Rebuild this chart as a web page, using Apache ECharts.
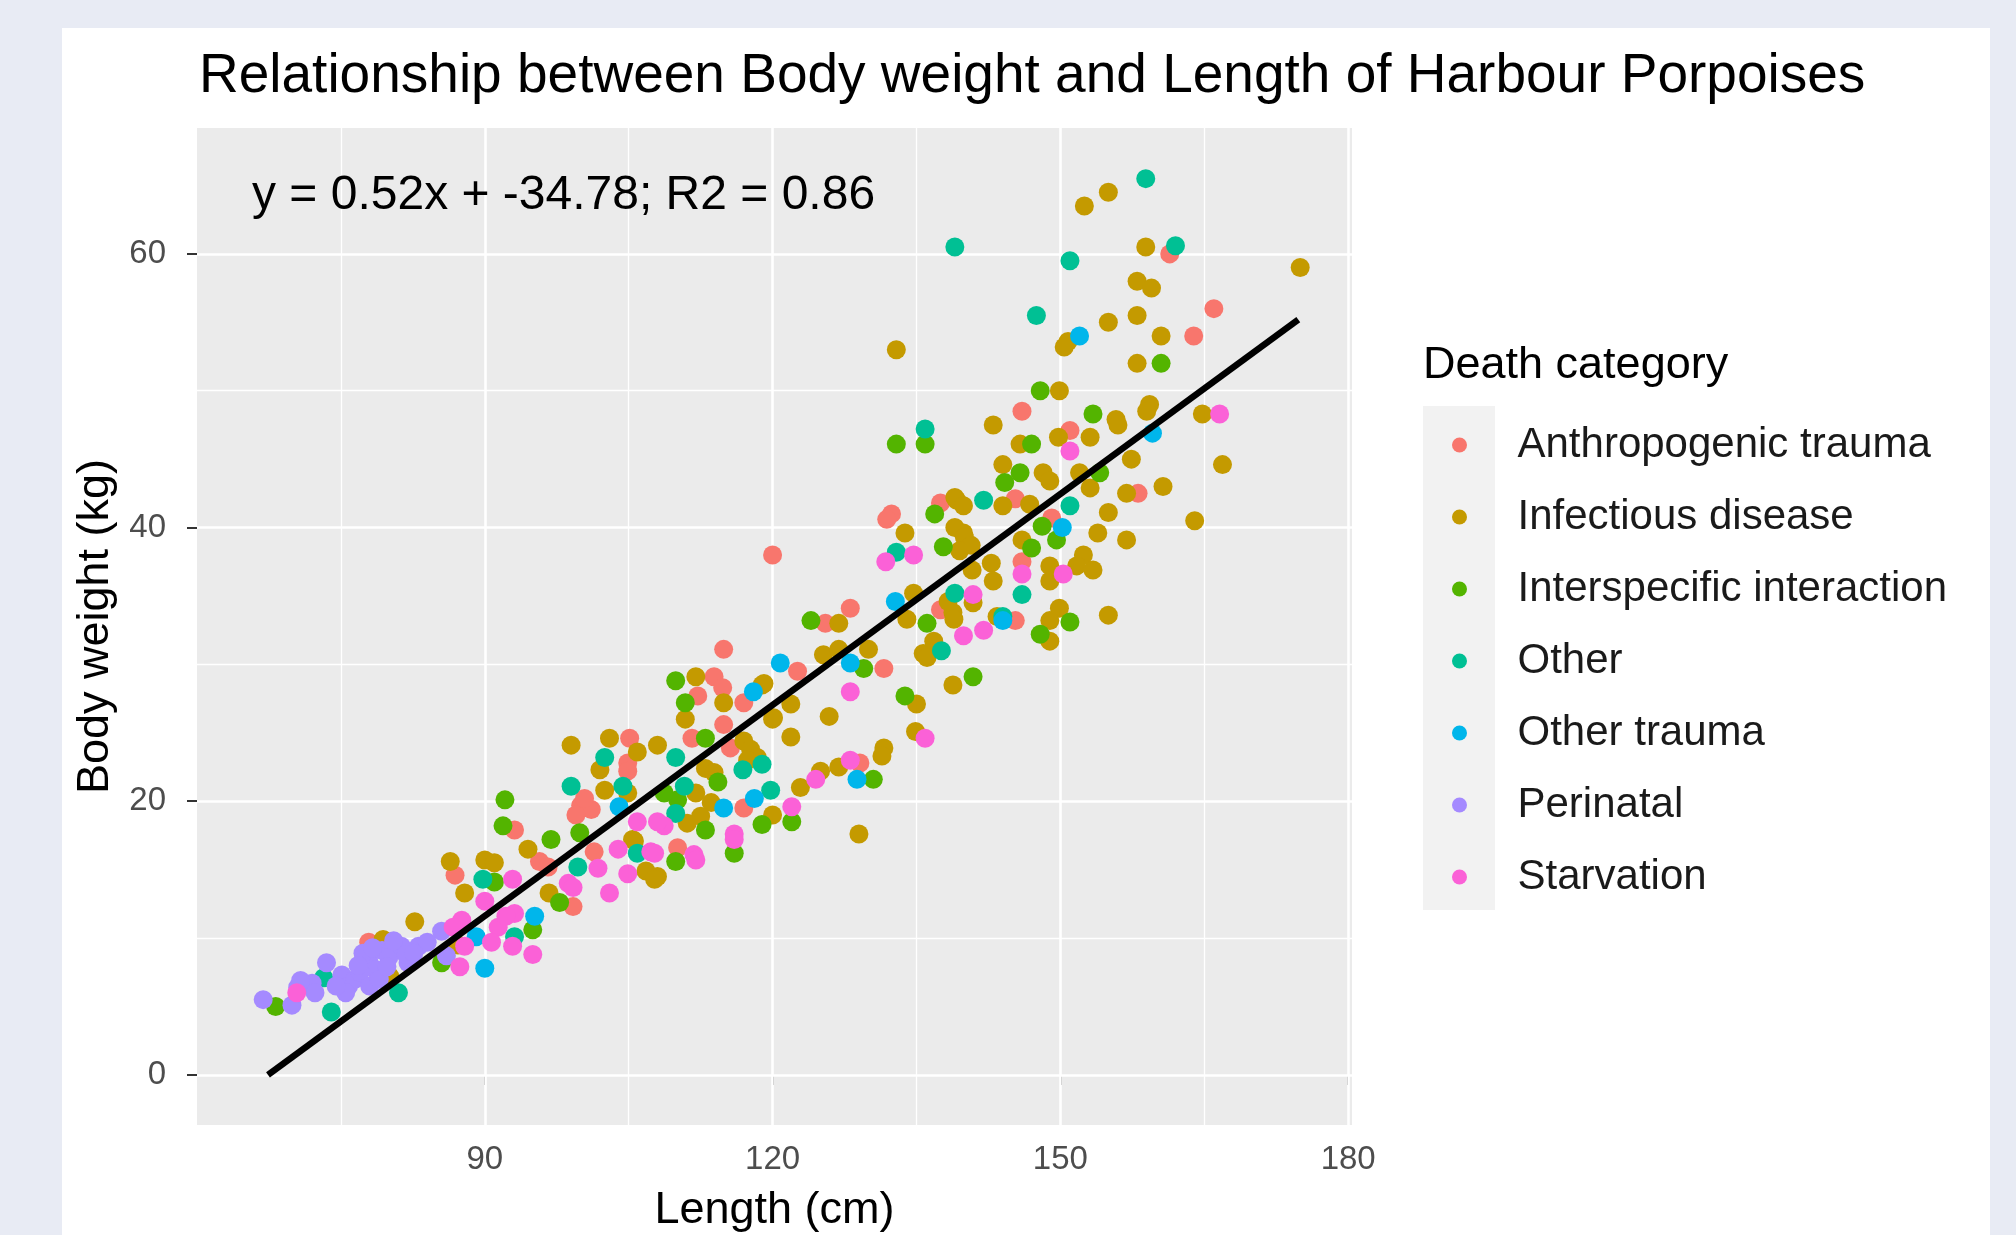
<!DOCTYPE html>
<html>
<head>
<meta charset="utf-8">
<title>Harbour Porpoises</title>
<script src="https://cdn.jsdelivr.net/npm/echarts@6/dist/echarts.min.js"></script>
<style>
  html, body { margin: 0; padding: 0; background: #e8ebf4; }
  #card { position: absolute; left: 62px; top: 28px; width: 1928px; height: 1207px; background: #fff; }
  #chart { position: absolute; left: 0; top: 0; width: 2016px; height: 1235px; }
</style>
</head>
<body>
<div id="card"></div>
<div id="chart"></div>
<script>
const FONT = '"Liberation Sans", Arial, Helvetica, sans-serif'

const categories = ['Anthropogenic trauma', 'Infectious disease', 'Interspecific interaction',
  'Other', 'Other trauma', 'Perinatal', 'Starvation']
const colors = ['#F8766D', '#C49A00', '#53B400', '#00C094', '#00B6EB', '#A58AFF', '#FB61D7']

// [length (cm), body weight (kg)]
const anthropogenic = [
  [161.4, 60.0], [166.0, 56.0], [163.9, 54.0], [146.0, 48.5], [151.0, 47.1], [158.1, 42.5],
  [145.3, 42.1], [149.1, 40.7], [146.0, 37.5], [145.3, 33.2], [132.4, 41.0], [131.9, 40.6],
  [137.5, 41.8], [137.5, 34.0], [122.6, 29.5], [125.5, 33.0], [128.1, 34.1], [131.6, 29.7],
  [120.0, 38.0], [114.9, 31.1], [113.9, 29.1], [114.8, 28.3], [117.0, 27.2], [112.2, 27.7],
  [105.1, 24.6], [111.6, 24.6], [114.9, 25.6], [115.6, 23.9], [104.9, 22.8], [104.9, 22.2],
  [129.1, 22.8], [100.0, 19.7], [101.1, 19.4], [99.5, 19.0], [100.4, 20.2], [117.0, 19.5],
  [101.4, 16.3], [110.1, 16.6], [93.1, 17.9], [86.9, 14.6], [95.7, 15.6], [96.6, 15.2],
  [99.2, 12.3], [77.9, 9.7]
]
const infectious = [
  [155.0, 64.5], [152.5, 63.5], [158.9, 60.5], [175.0, 59.0], [158.0, 58.0], [159.5, 57.5],
  [155.0, 55.0], [158.0, 55.5], [150.4, 53.2], [150.8, 53.6], [160.5, 54.0], [158.0, 52.0],
  [149.9, 50.0], [159.3, 49.0], [159.0, 48.5], [155.8, 47.9], [164.8, 48.3], [143.0, 47.5],
  [156.0, 47.5], [149.8, 46.6], [153.1, 46.6], [145.8, 46.1], [157.4, 45.0], [166.9, 44.6],
  [144.0, 44.6], [148.2, 44.0], [148.9, 43.4], [152.0, 44.0], [153.1, 42.9], [160.7, 43.0],
  [156.9, 42.5], [139.2, 42.0], [144.0, 41.6], [146.8, 41.7], [155.0, 41.1], [164.0, 40.5],
  [139.9, 39.6], [153.9, 39.6], [146.0, 39.1], [156.9, 39.1], [142.8, 37.4], [152.4, 38.0],
  [151.7, 37.2], [153.4, 36.9], [148.9, 37.2], [148.9, 36.1], [143.0, 36.1], [140.9, 34.5],
  [155.0, 33.6], [149.9, 34.1], [143.4, 33.5], [148.9, 33.2], [148.9, 31.7], [138.8, 33.8],
  [132.9, 53.0], [133.8, 39.6], [139.0, 42.2], [139.9, 41.6], [139.0, 40.0], [140.0, 39.3],
  [140.7, 38.7], [139.5, 38.3], [140.8, 36.9], [134.7, 35.2], [138.3, 34.6], [138.9, 33.3],
  [134.0, 33.3], [135.7, 30.8], [136.8, 31.7], [136.1, 30.5], [118.9, 28.5], [126.9, 33.0],
  [125.3, 30.7], [126.9, 31.1], [130.0, 31.1], [125.9, 26.2], [135.0, 27.1], [121.9, 27.1],
  [120.1, 26.1], [121.9, 24.7], [134.9, 25.1], [138.8, 28.5], [131.6, 23.9], [112.0, 29.1],
  [114.9, 27.2], [119.1, 28.6], [110.9, 26.0], [120.0, 26.0], [99.0, 24.1], [103.0, 24.6],
  [105.9, 23.6], [108.0, 24.1], [117.0, 24.4], [117.7, 23.8], [118.4, 23.2], [102.0, 22.3],
  [113.0, 22.4], [113.9, 22.1], [117.4, 23.0], [122.9, 21.0], [125.0, 22.2], [126.9, 22.5],
  [131.4, 23.3], [129.0, 17.6], [102.5, 20.8], [104.9, 20.6], [112.0, 20.6], [113.6, 19.9],
  [120.0, 19.0], [112.5, 18.9], [111.1, 18.4], [105.4, 17.2], [94.5, 16.5], [86.4, 15.6],
  [90.0, 15.7], [91.0, 15.5], [87.9, 13.3], [96.7, 13.3], [106.8, 14.9], [108.0, 14.5],
  [107.7, 14.3], [105.6, 17.1], [82.7, 11.2], [79.4, 9.9], [80.1, 7.2], [87.2, 9.5]
]
const interspecific = [
  [160.5, 52.0], [153.4, 48.3], [147.9, 50.0], [147.0, 46.1], [145.8, 44.0], [144.2, 43.3],
  [154.1, 44.0], [148.1, 40.1], [149.6, 39.1], [147.0, 38.5], [151.0, 33.1], [147.9, 32.2],
  [135.9, 46.1], [132.9, 46.1], [136.9, 41.0], [137.8, 38.6], [136.1, 33.0], [124.0, 33.2],
  [129.5, 29.7], [133.8, 27.7], [140.9, 29.1], [109.9, 28.8], [110.9, 27.2], [113.0, 24.6],
  [110.1, 20.1], [108.7, 20.6], [114.3, 21.4], [130.5, 21.6], [118.9, 18.3], [122.0, 18.5],
  [113.0, 17.9], [116.0, 16.2], [99.9, 17.7], [96.9, 17.2], [92.1, 20.1], [91.9, 18.2],
  [91.0, 14.1], [97.8, 12.6], [109.9, 15.6], [95.0, 10.6], [85.5, 8.2], [68.2, 5.0]
]
const other = [
  [158.9, 65.5], [162.0, 60.6], [151.0, 59.5], [139.0, 60.5], [147.5, 55.5], [142.0, 42.0],
  [151.0, 41.6], [139.0, 35.2], [146.0, 35.1], [135.9, 47.2], [132.9, 38.2], [137.6, 31.0],
  [144.0, 33.5], [118.9, 22.7], [109.9, 23.2], [102.5, 23.2], [99.0, 21.1], [119.8, 20.8],
  [110.8, 21.1], [104.4, 21.1], [109.9, 19.1], [116.9, 22.3], [105.9, 16.2], [99.7, 15.2],
  [89.8, 14.3], [93.1, 10.1], [73.2, 7.1], [74.0, 4.6], [81.0, 6.0]
]
const otherTrauma = [
  [152.0, 54.0], [159.6, 46.9], [150.2, 40.0], [144.0, 33.2], [132.8, 34.6], [120.8, 30.1],
  [118.0, 28.0], [128.1, 30.1], [128.8, 21.6], [104.0, 19.6], [114.9, 19.5], [118.1, 20.2],
  [95.2, 11.6], [89.1, 10.1], [90.0, 7.8]
]
const perinatal = [
  [66.9, 5.5], [69.9, 5.1], [72.0, 6.7], [72.3, 6.0], [73.5, 8.2], [75.1, 7.3], [75.8, 6.5],
  [76.5, 7.0], [75.5, 6.0], [77.9, 8.4], [79.3, 9.1], [78.6, 7.7], [80.0, 8.6], [81.3, 9.4],
  [82.0, 8.2], [83.1, 9.4], [85.5, 10.5], [86.0, 8.7], [77.0, 7.5], [78.0, 6.5], [80.5, 9.8],
  [74.5, 6.5], [70.5, 6.4], [77.3, 8.9], [79.0, 7.0], [81.8, 8.8], [84.0, 9.7],
  [70.8, 6.9], [78.3, 9.3], [79.8, 7.9], [82.6, 8.9], [76.8, 8.0]
]
const starvation = [
  [166.6, 48.3], [151.0, 45.6], [146.0, 36.6], [150.3, 36.6], [140.9, 35.1], [142.0, 32.5],
  [139.9, 32.1], [131.8, 37.5], [134.7, 38.0], [128.1, 28.0], [135.9, 24.6], [128.1, 23.0],
  [124.5, 21.6], [122.0, 19.6], [105.9, 18.5], [108.7, 18.2], [108.0, 18.5], [116.0, 17.6],
  [116.0, 17.2], [103.9, 16.5], [107.3, 16.3], [111.8, 16.1], [101.8, 15.1], [98.7, 14.0],
  [99.2, 13.7], [103.0, 13.3], [104.9, 14.7], [107.7, 16.2], [112.0, 15.7], [92.9, 14.3],
  [90.0, 12.7], [93.1, 11.8], [91.4, 10.8], [90.7, 9.7], [95.0, 8.8], [87.6, 11.3],
  [86.7, 10.8], [87.4, 7.9], [87.9, 9.4], [92.9, 9.4], [92.2, 11.6], [70.4, 6.0]
]
const groups = [anthropogenic, infectious, interspecific, other, otherTrauma, perinatal, starvation]

// fitted line at both ends
const fitLine = [[67.4, 0], [174.8, 55.2]]

const xMajor = [90, 120, 150, 180]
const xMinor = [75, 105, 135, 165]
const yMajor = [0, 20, 40, 60]
const yMinor = [10, 30, 50]

const chart = echarts.init(document.getElementById('chart'))

const gridLines = []
yMajor.forEach(v => gridLines.push({ yAxis: v, lineStyle: { color: '#fff', width: 2.6, type: 'solid' } }))
yMinor.forEach(v => gridLines.push({ yAxis: v, lineStyle: { color: '#fff', width: 1.3, type: 'solid' } }))
xMajor.forEach(v => gridLines.push({ xAxis: v, lineStyle: { color: '#fff', width: 2.6, type: 'solid' } }))
xMinor.forEach(v => gridLines.push({ xAxis: v, lineStyle: { color: '#fff', width: 1.3, type: 'solid' } }))

const series = groups.map((g, i) => ({
  name: categories[i],
  type: 'scatter',
  data: g,
  symbol: 'circle',
  symbolSize: 19,
  itemStyle: { color: colors[i], opacity: 1 },
  emphasis: { disabled: true },
  z: 2
}))

series.push({
  name: 'fit',
  type: 'line',
  data: fitLine,
  showSymbol: false,
  symbol: 'none',
  lineStyle: { color: '#000', width: 6.5 },
  emphasis: { disabled: true },
  z: 3,
  markLine: {
    silent: true,
    symbol: 'none',
    z: 1,
    animation: false,
    label: { show: false },
    data: gridLines
  }
})

chart.setOption({
  animation: false,
  color: colors,
  textStyle: { fontFamily: FONT },
  title: {
    text: 'Relationship between Body weight and Length of Harbour Porpoises',
    left: 199,
    top: 49,
    padding: 0,
    textStyle: { fontSize: 55, fontWeight: 'normal', color: '#000', fontFamily: FONT }
  },
  grid: {
    left: 197,
    top: 128,
    width: 1155,
    height: 997,
    outerBoundsMode: 'none',
    containLabel: false,
    show: true,
    backgroundColor: '#EBEBEB',
    borderWidth: 0
  },
  xAxis: {
    type: 'value',
    min: 60,
    max: 180.4,
    name: 'Length (cm)',
    nameLocation: 'middle',
    nameGap: 63,
    nameTextStyle: { fontSize: 45, color: '#000', fontFamily: FONT },
    axisLine: { show: false },
    axisTick: { show: true, length: 10, customValues: xMajor, lineStyle: { color: '#333', width: 2 } },
    axisLabel: { customValues: xMajor, fontSize: 33, color: '#4D4D4D', margin: 18, fontFamily: FONT },
    splitLine: { show: false }
  },
  yAxis: {
    type: 'value',
    min: -3.66,
    max: 69.2,
    name: 'Body weight (kg)',
    nameLocation: 'middle',
    nameRotate: 90,
    nameGap: 65,
    nameTextStyle: { fontSize: 45, color: '#000', fontFamily: FONT },
    axisLine: { show: false },
    axisTick: { show: true, length: 10, customValues: yMajor, lineStyle: { color: '#333', width: 2 } },
    axisLabel: { customValues: yMajor, fontSize: 33, color: '#4D4D4D', margin: 31, fontFamily: FONT },
    splitLine: { show: false }
  },
  legend: {
    data: categories,
    orient: 'vertical',
    left: 1452,
    top: 424,
    padding: 0,
    itemWidth: 106,
    itemHeight: 15,
    itemGap: 30,
    icon: 'circle',
    selectedMode: false,
    textStyle: { fontSize: 42, color: '#1a1a1a', fontFamily: FONT }
  },
  graphic: [
    {
      type: 'rect',
      left: 1423,
      top: 406,
      z: -1,
      shape: { width: 72, height: 504 },
      style: { fill: '#F2F2F2' }
    },
    {
      type: 'text',
      left: 1423,
      top: 343,
      style: { text: 'Death category', fontSize: 45, fill: '#000', fontFamily: FONT }
    },
    {
      type: 'text',
      left: 252,
      top: 172,
      z: 10,
      style: { text: 'y = 0.52x + -34.78; R2 = 0.86', fontSize: 48, fill: '#000', fontFamily: FONT }
    }
  ],
  series: series
})
</script>
</body>
</html>
